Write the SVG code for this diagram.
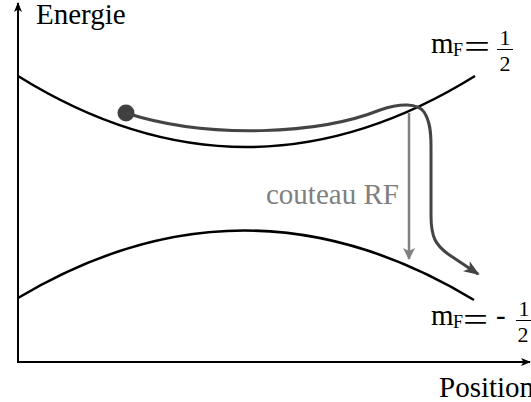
<svg xmlns="http://www.w3.org/2000/svg" width="531" height="402" viewBox="0 0 531 402">
<defs>
<style>
text{font-family:"Liberation Serif","Times New Roman",serif;fill:#000}
.lbl{font-size:29px}
.sub{font-size:18px}
.frac{font-size:22px;text-anchor:middle}
.eq{font-size:34px}
.curve{fill:none;stroke:#000;stroke-width:2.5}
.axis{fill:none;stroke:#000;stroke-width:2}
</style>
<marker id="ax" markerWidth="10" markerHeight="8" refX="9" refY="4" orient="auto" markerUnits="userSpaceOnUse">
<path d="M0,0 L10,4 L0,8 L2.5,4 Z" fill="#000"/>
</marker>
<marker id="dk" markerWidth="16" markerHeight="12" refX="14" refY="6" orient="auto" markerUnits="userSpaceOnUse">
<path d="M0,0 L16,6 L0,12 L4,6 Z" fill="#444"/>
</marker>
<marker id="gr" markerWidth="12" markerHeight="14" refX="11" refY="6" orient="auto" markerUnits="userSpaceOnUse">
<path d="M0,0 L12,6 L0,12 L3,6 Z" fill="#808080"/>
</marker>
</defs>
<rect width="531" height="402" fill="#fff"/>
<g id="axes">
<path class="axis" d="M18,363 L18,3" marker-end="url(#ax)"/>
<path class="axis" d="M17,362 L530,362" marker-end="url(#ax)"/>
<text class="lbl" x="36" y="24">Energie</text>
<text class="lbl" x="439" y="397">Position</text>
</g>
<g id="upper-level">
<path class="curve" d="M18,76 Q246,218 475,76"/>
<text class="lbl" x="431" y="53">m</text>
<text class="sub" x="453" y="56">F</text>
<text class="eq" x="464" y="58" textLength="26" lengthAdjust="spacingAndGlyphs">=</text>
<text class="frac" x="505" y="45">1</text>
<line x1="497" y1="49.5" x2="513" y2="49.5" stroke="#000" stroke-width="1"/>
<text class="frac" x="505" y="71">2</text>
</g>
<g id="lower-level">
<path class="curve" d="M18,298 Q246,162 474,300"/>
<text class="lbl" x="431" y="325">m</text>
<text class="sub" x="453" y="328">F</text>
<text class="eq" x="463" y="331" textLength="25" lengthAdjust="spacingAndGlyphs">=</text>
<text class="lbl" x="496" y="325">-</text>
<text class="frac" x="524" y="316">1</text>
<line x1="516" y1="320.5" x2="531" y2="320.5" stroke="#000" stroke-width="1"/>
<text class="frac" x="523" y="342">2</text>
</g>
<g id="atom">
<circle cx="126" cy="113" r="8.5" fill="#404040"/>
</g>
<g id="connectors">
<path d="M126,113 C210,140 320,134 380,110 C400,103 418,103 424,112 C430,121 431,132 431,146 L431,215 C431,238 436,245 448,254 L478,274" fill="none" stroke="#444" stroke-width="3" marker-end="url(#dk)"/>
<path d="M409,113 L409,259" fill="none" stroke="#808080" stroke-width="2.5" marker-end="url(#gr)"/>
<text class="lbl" x="266" y="204" style="fill:#808080">couteau RF</text>
</g>
</svg>
